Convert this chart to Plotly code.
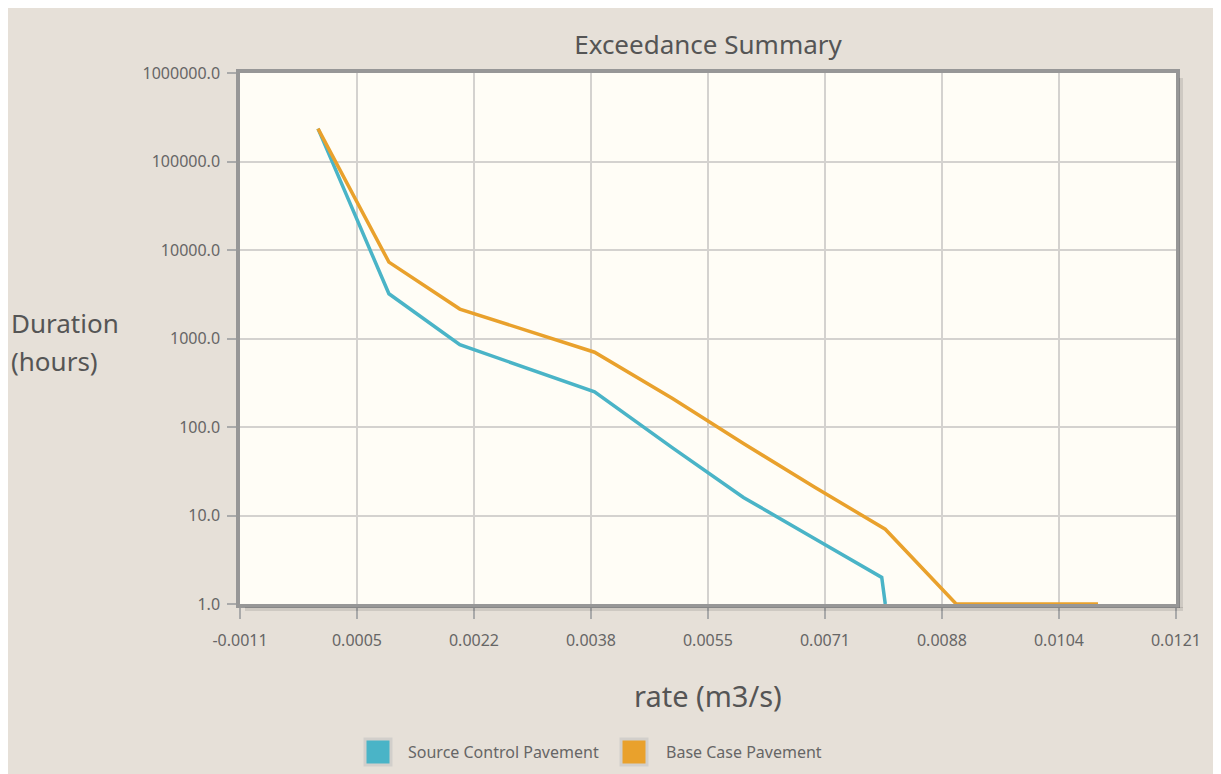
import plotly.graph_objects as go

# ---- data ----
series_names = ["Source Control Pavement", "Base Case Pavement"]

source_rate = [0.0, 0.001, 0.002, 0.0039, 0.005, 0.006, 0.007, 0.00795, 0.0080]
source_hours = [235000, 3200, 850, 250, 58, 16, 5.5, 2.0, 1.0]

base_rate = [0.0, 0.001, 0.002, 0.0039, 0.005, 0.006, 0.007, 0.008, 0.009, 0.011]
base_hours = [235000, 7300, 2150, 700, 210, 65, 21, 7.0, 1.0, 1.0]

x_tick_values = [-0.0011, 0.00055, 0.0022, 0.00385, 0.0055, 0.00715, 0.0088, 0.01045, 0.0121]
x_tick_labels = ["-0.0011", "0.0005", "0.0022", "0.0038", "0.0055", "0.0071", "0.0088", "0.0104", "0.0121"]

y_tick_values = [1, 10, 100, 1000, 10000, 100000, 1000000]
y_tick_labels = ["1.0", "10.0", "100.0", "1000.0", "10000.0", "100000.0", "1000000.0"]

colors = ["#4ab4c7", "#e9a12c"]

FONT = "Noto Sans"
OFF = 8  # page body margin
W, H = 1221 - OFF, 774 - OFF
# plot area in reference-page pixels: left 240, right 1176, top 73, bottom 604
L, T = 240 - OFF, 73 - OFF
R = W - (1176 - OFF)
B = H - (604 - OFF)
PW, PH = W - L - R, H - T - B


def px_to_paper_x(p):
    return (p - OFF - L) / PW


def px_to_paper_y(p):
    return (H - B - (p - OFF)) / PH


fig = go.Figure()
for name, xs, ys, c in [(series_names[0], source_rate, source_hours, colors[0]),
                        (series_names[1], base_rate, base_hours, colors[1])]:
    fig.add_trace(go.Scatter(x=xs, y=ys, mode="lines", name=name,
                             line=dict(color=c, width=3.5), showlegend=False))

axis_common = dict(
    showgrid=True, gridcolor="#d4d2cf", gridwidth=2,
    showline=True, linecolor="#979797", linewidth=3.5, mirror=True,
    ticks="outside", tickcolor="#aaaaaa", tickwidth=2,
    tickfont=dict(family=FONT, size=16, color="#666"),
    zeroline=False,
)

fig.update_xaxes(range=[x_tick_values[0], x_tick_values[-1]], tickmode="array",
                 tickvals=x_tick_values, ticktext=x_tick_labels, ticklen=11,
                 ticklabelstandoff=8, **axis_common)
fig.update_yaxes(type="log", range=[0, 6], tickmode="array",
                 tickvals=y_tick_values, ticktext=y_tick_labels, ticklen=9,
                 ticklabelstandoff=4, **axis_common)

shapes = []
# subtle shadow along right and bottom border
shapes.append(dict(type="line", xref="paper", yref="paper",
                   x0=px_to_paper_x(1181), x1=px_to_paper_x(1181),
                   y0=px_to_paper_y(78), y1=px_to_paper_y(608),
                   line=dict(color="rgba(0,0,0,0.10)", width=4)))
shapes.append(dict(type="line", xref="paper", yref="paper",
                   x0=px_to_paper_x(245), x1=px_to_paper_x(1183),
                   y0=px_to_paper_y(609), y1=px_to_paper_y(609),
                   line=dict(color="rgba(0,0,0,0.10)", width=4)))

annotations = []
# legend (manual, square swatches)
legend_items = [(series_names[0], colors[0], 365, 406), (series_names[1], colors[1], 621, 664)]
for name, c, sx, tx in legend_items:
    shapes.append(dict(type="rect", xref="paper", yref="paper",
                       x0=px_to_paper_x(sx), x1=px_to_paper_x(sx + 26),
                       y0=px_to_paper_y(739), y1=px_to_paper_y(765),
                       fillcolor=c, line=dict(color="#d2cfcb", width=3)))
    annotations.append(dict(text=name, xref="paper", yref="paper",
                            x=px_to_paper_x(tx), y=px_to_paper_y(752),
                            xanchor="left", yanchor="middle", showarrow=False,
                            font=dict(family=FONT, size=16, color="#666")))

for line_text, py in [("Duration", 323), ("(hours)", 361)]:
    annotations.append(dict(text=line_text, xref="paper", yref="paper",
                            x=px_to_paper_x(9), y=px_to_paper_y(py),
                            xanchor="left", yanchor="middle", align="left", showarrow=False,
                            font=dict(family=FONT, size=26, color="#555")))
annotations.append(dict(text="rate (m3/s)", xref="paper", yref="paper",
                        x=0.5, y=px_to_paper_y(695),
                        xanchor="center", yanchor="middle", showarrow=False,
                        font=dict(family=FONT, size=29, color="#555")))

fig.update_layout(
    width=W, height=H,
    margin=dict(l=L, r=R, t=T, b=B),
    paper_bgcolor="#e6e0d8",
    plot_bgcolor="#fffdf6",
    title=dict(text="Exceedance Summary", x=0.5, xref="paper", y=1 - (45 - OFF) / H,
               xanchor="center", yanchor="middle",
               font=dict(family=FONT, size=26, color="#555")),
    shapes=shapes,
    annotations=annotations,
    showlegend=False,
)

fig.write_html("out.html")
